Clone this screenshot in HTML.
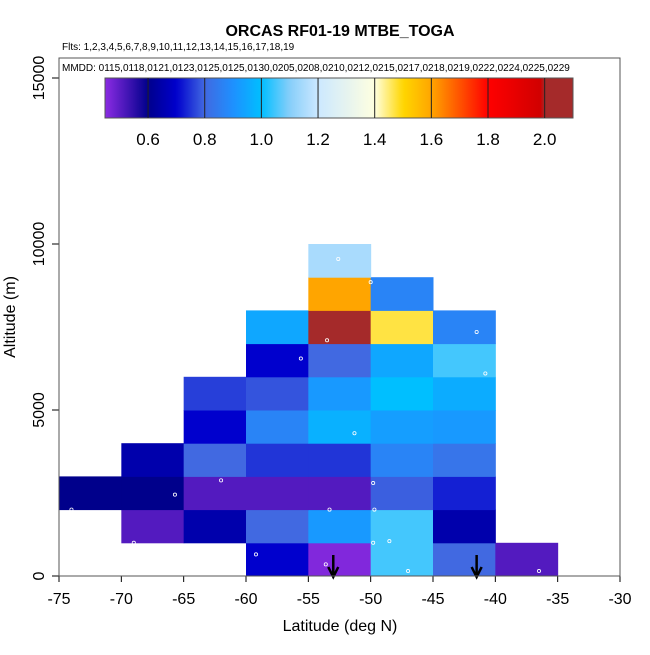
<!DOCTYPE html>
<html><head><meta charset="utf-8"><style>
body{margin:0;background:#fff}
svg text{font-family:"Liberation Sans",sans-serif}
</style></head><body>
<svg id="c" width="650" height="650" xmlns="http://www.w3.org/2000/svg">
<rect width="650" height="650" fill="#fff"/>
<text x="340" y="36" font-size="16" font-weight="bold" text-anchor="middle">ORCAS RF01-19 MTBE_TOGA</text>
<text x="62" y="50" font-size="10">Flts: 1,2,3,4,5,6,7,8,9,10,11,12,13,14,15,16,17,18,19</text>
<g id="cells"></g>
<g id="dots"></g>
<g id="axes"></g>
<rect x="59" y="58" width="561" height="518" fill="none" stroke="#555" stroke-width="1"/>
<text x="62" y="71" font-size="10">MMDD: 0115,0118,0121,0123,0125,0125,0130,0205,0208,0210,0212,0215,0217,0218,0219,0222,0224,0225,0229</text>
<defs><linearGradient id="cbg" x1="0" x2="1" y1="0" y2="0"></linearGradient></defs>
<g id="cbar"></g>
<text x="340" y="631" font-size="16" text-anchor="middle">Latitude (deg N)</text>
<text transform="translate(15,317) rotate(-90)" font-size="16" text-anchor="middle">Altitude (m)</text>
</svg>
<script>
const latBins=[-75,-70,-65,-60,-55,-50,-45,-40];
const altBins=[0,1000,2000,3000,4000,5000,6000,7000,8000,9000];
// rows by altitude bin, columns by latitude bin (null = no data)
const values=[
[null,null,null,0.70,0.46,1.05,0.80,0.51],
[null,0.51,0.65,0.80,0.92,1.05,0.65,null],
[0.60,0.60,0.51,0.51,0.51,0.79,0.73,null],
[null,0.65,0.80,0.75,0.75,0.87,0.83,null],
[null,null,0.70,0.87,0.97,0.93,0.92,null],
[null,null,0.76,0.78,0.92,1.00,0.96,null],
[null,null,null,0.70,0.80,0.95,1.05,null],
[null,null,null,0.95,2.05,1.47,0.87,null],
[null,null,null,null,1.60,0.87,null,null],
[null,null,null,null,1.15,null,null,null]];
const ptLat=[-74,-69,-65.7,-62,-59.2,-55.6,-53.5,-53.6,-53.3,-52.6,-51.3,-50,-49.8,-49.7,-49.8,-48.5,-47,-43.6,-41.5,-40.8,-36.5];
const ptAlt=[2000,1000,2450,2880,650,6550,7100,350,2000,9550,4300,8850,2800,2000,1000,1050,150,8500,7350,6100,150];
const arrowLat=[-53,-41.5];
const xTicks=[-75,-70,-65,-60,-55,-50,-45,-40,-35,-30];
const yTicks=[0,5000,10000,15000];
const cbTicks=[0.6,0.8,1.0,1.2,1.4,1.6,1.8,2.0];
const cmapV=[0.45,0.6,0.7,0.8,0.9,1.0,1.1,1.2,1.4,1.5,1.6,1.8,2.0,2.1];
const cmapC=["#8a2be2","#00008b","#0000cd","#4169e1","#1e90ff","#00bfff","#87cefa","#cce8ff","#ffffe0","#ffd700","#ffa500","#ff0000","#cd0000","#a52a2a"];
const NS="http://www.w3.org/2000/svg";
const X=v=>59+(v+75)*561/45;
const Y=v=>576-v*166/5000;
const CB=v=>105+(v-0.448)*468/1.652;
function hex(c){return [1,3,5].map(i=>parseInt(c.substr(i,2),16));}
function col(v){
 if(v>=2.0) return cmapC[cmapC.length-1];
 for(let i=0;i<cmapV.length-1;i++){if(v<=cmapV[i+1]){const t=Math.max(0,(v-cmapV[i])/(cmapV[i+1]-cmapV[i]));const a=hex(cmapC[i]),b=hex(cmapC[i+1]);return "rgb("+a.map((x,k)=>Math.round(x+(b[k]-x)*t)).join(",")+")";}}
 return cmapC[cmapC.length-1];}
function mk(tag,attrs,parent,txt){const e=document.createElementNS(NS,tag);for(const k in attrs)e.setAttribute(k,attrs[k]);if(txt!==undefined)e.textContent=txt;parent.appendChild(e);return e;}
const cells=document.getElementById('cells');
values.forEach((row,r)=>row.forEach((v,c)=>{if(v===null)return;
 const e=mk('rect',{x:X(latBins[c]),y:Y(altBins[r]+1000),width:X(latBins[c]+5)-X(latBins[c])+0.5,height:Y(altBins[r])-Y(altBins[r]+1000)+0.5,fill:col(v)},cells);
 
 }));
const dots=document.getElementById('dots');
ptLat.forEach((la,i)=>{const e=mk('circle',{cx:X(la),cy:Y(ptAlt[i]),r:1.6,fill:'none',stroke:'#fff','stroke-width':0.8},dots);
 
 });
const axes=document.getElementById('axes');
mk('line',{x1:X(-75),x2:X(-30),y1:576,y2:576,stroke:'#000'},axes);
xTicks.forEach(t=>{mk('line',{x1:X(t),x2:X(t),y1:576,y2:582,stroke:'#000'},axes);
 const e=mk('text',{x:X(t),y:604,'font-size':16,'text-anchor':'middle'},axes,String(t));
 
 });
yTicks.forEach(t=>{mk('line',{x1:52,x2:59,y1:Y(t),y2:Y(t),stroke:'#000'},axes);
 const e=mk('text',{transform:`translate(44,${Y(t)}) rotate(-90)`,'font-size':16,'text-anchor':'middle'},axes,String(t));
 
 });
arrowLat.forEach(la=>{const g=mk('g',{},axes);
 
 
 mk('line',{x1:X(la),x2:X(la),y1:555,y2:575,stroke:'#000','stroke-width':2.5},g);
 mk('path',{d:`M${X(la)-5},567 L${X(la)},577 L${X(la)+5},567`,fill:'none',stroke:'#000','stroke-width':2.5},g);});
const grad=document.getElementById('cbg');
for(let i=0;i<=100;i++){const v=0.448+1.652*i/100;mk('stop',{offset:i+'%','stop-color':col(v)},grad);}
const cb=document.getElementById('cbar');
mk('rect',{x:105,y:78,width:468,height:40,fill:'url(#cbg)',stroke:'#555'},cb);
cbTicks.forEach(t=>{mk('line',{x1:CB(t),x2:CB(t),y1:78,y2:118,stroke:'#222','stroke-width':1},cb);
 const e=mk('text',{x:CB(t),y:145,'font-size':17,'text-anchor':'middle'},cb,t.toFixed(1));
 
 });
</script>
</body></html>
